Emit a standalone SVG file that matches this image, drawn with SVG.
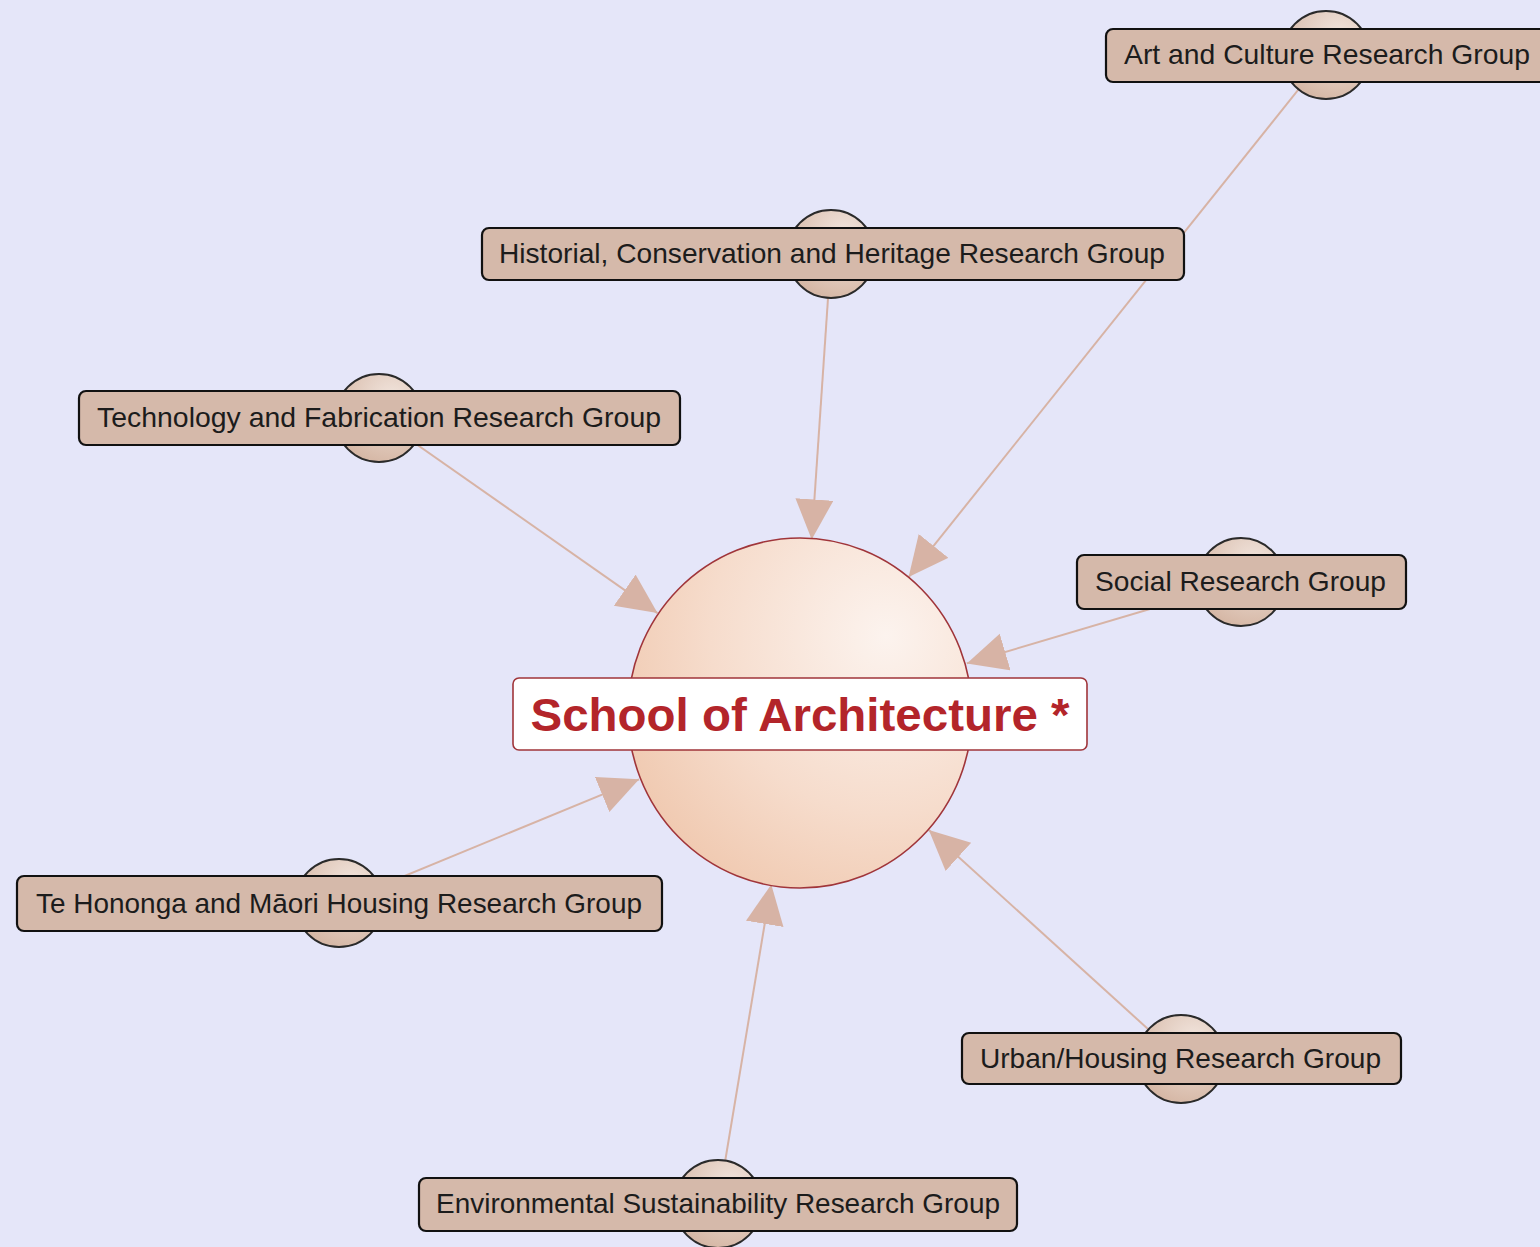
<svg xmlns="http://www.w3.org/2000/svg" width="1540" height="1247" viewBox="0 0 1540 1247">
<defs>
<style>
.bg{fill:#e5e6f9}
.cap{fill:url(#capg);stroke:#2a2a2a;stroke-width:2}
.box{fill:#d5b9aa;stroke:#111;stroke-width:2.2}
.lbl{font-family:"Liberation Sans",Arial,sans-serif;font-size:28px;fill:#1c1c1c;text-anchor:start}
.edge{stroke:#d7b3a5;stroke-width:2;fill:none;marker-end:url(#arr)}
.main{font-family:"Liberation Sans",Arial,sans-serif;font-size:47px;font-weight:bold;fill:#b3252a;text-anchor:middle}
</style>
<radialGradient id="capg" cx="0.65" cy="0.3" r="0.8">
<stop offset="0" stop-color="#f2e6df"/>
<stop offset="1" stop-color="#d3b3a0"/>
</radialGradient>
<radialGradient id="hub" cx="0.75" cy="0.28" r="0.85">
<stop offset="0" stop-color="#fcf3ee"/>
<stop offset="0.6" stop-color="#f6dccc"/>
<stop offset="1" stop-color="#f0c9b0"/>
</radialGradient>
<marker id="arr" markerUnits="userSpaceOnUse" markerWidth="42" markerHeight="40" refX="40" refY="19" orient="auto">
<path d="M0,0 L40,19 L0,38 z" fill="#d7b3a5"/>
</marker>
</defs>
<rect class="bg" x="0" y="0" width="1540" height="1247"/>
<g id="connectors">
<line class="edge" x1="1326" y1="55" x2="908.6" y2="577.1"/>
<line class="edge" x1="831" y1="254" x2="811.7" y2="539.4"/>
<line class="edge" x1="379" y1="418" x2="657.5" y2="613.1"/>
<line class="edge" x1="1241" y1="582" x2="966.8" y2="663.4"/>
<line class="edge" x1="339" y1="903" x2="639.1" y2="779.3"/>
<line class="edge" x1="1181" y1="1059" x2="928.8" y2="830"/>
<line class="edge" x1="718" y1="1204" x2="771.3" y2="884.4"/>
</g>
<g id="hub-school">
<ellipse cx="800" cy="713" rx="172" ry="175" fill="url(#hub)" stroke="#a0353a" stroke-width="1.6"/>
<rect x="513" y="678" width="574" height="72" rx="6" fill="#ffffff" stroke="#a0353a" stroke-width="1.6"/>
<text class="main" x="800" y="731" textLength="539" lengthAdjust="spacingAndGlyphs">School of Architecture *</text>
</g>
<g id="node-art">
<circle class="cap" cx="1326" cy="55" r="44"/>
<rect class="box" x="1106" y="29" width="450" height="53" rx="7"/>
<text class="lbl" x="1124" y="64" textLength="406" lengthAdjust="spacingAndGlyphs">Art and Culture Research Group</text>
</g>
<g id="node-historial">
<circle class="cap" cx="831" cy="254" r="44"/>
<rect class="box" x="482" y="228" width="702" height="52" rx="7"/>
<text class="lbl" x="499" y="263" textLength="666" lengthAdjust="spacingAndGlyphs">Historial, Conservation and Heritage Research Group</text>
</g>
<g id="node-technology">
<circle class="cap" cx="379" cy="418" r="44"/>
<rect class="box" x="79" y="391" width="601" height="54" rx="7"/>
<text class="lbl" x="97" y="427" textLength="564" lengthAdjust="spacingAndGlyphs">Technology and Fabrication Research Group</text>
</g>
<g id="node-social">
<circle class="cap" cx="1241" cy="582" r="44"/>
<rect class="box" x="1077" y="555" width="329" height="54" rx="7"/>
<text class="lbl" x="1095" y="591" textLength="291" lengthAdjust="spacingAndGlyphs">Social Research Group</text>
</g>
<g id="node-tehononga">
<circle class="cap" cx="339" cy="903" r="44"/>
<rect class="box" x="17" y="876" width="645" height="55" rx="7"/>
<text class="lbl" x="36" y="913" textLength="606" lengthAdjust="spacingAndGlyphs">Te Hononga and Māori Housing Research Group</text>
</g>
<g id="node-urban">
<circle class="cap" cx="1181" cy="1059" r="44"/>
<rect class="box" x="962" y="1033" width="439" height="51" rx="7"/>
<text class="lbl" x="980" y="1068" textLength="401" lengthAdjust="spacingAndGlyphs">Urban/Housing Research Group</text>
</g>
<g id="node-environmental">
<circle class="cap" cx="718" cy="1204" r="44"/>
<rect class="box" x="419" y="1178" width="598" height="53" rx="7"/>
<text class="lbl" x="436" y="1213" textLength="564" lengthAdjust="spacingAndGlyphs">Environmental Sustainability Research Group</text>
</g>
</svg>
